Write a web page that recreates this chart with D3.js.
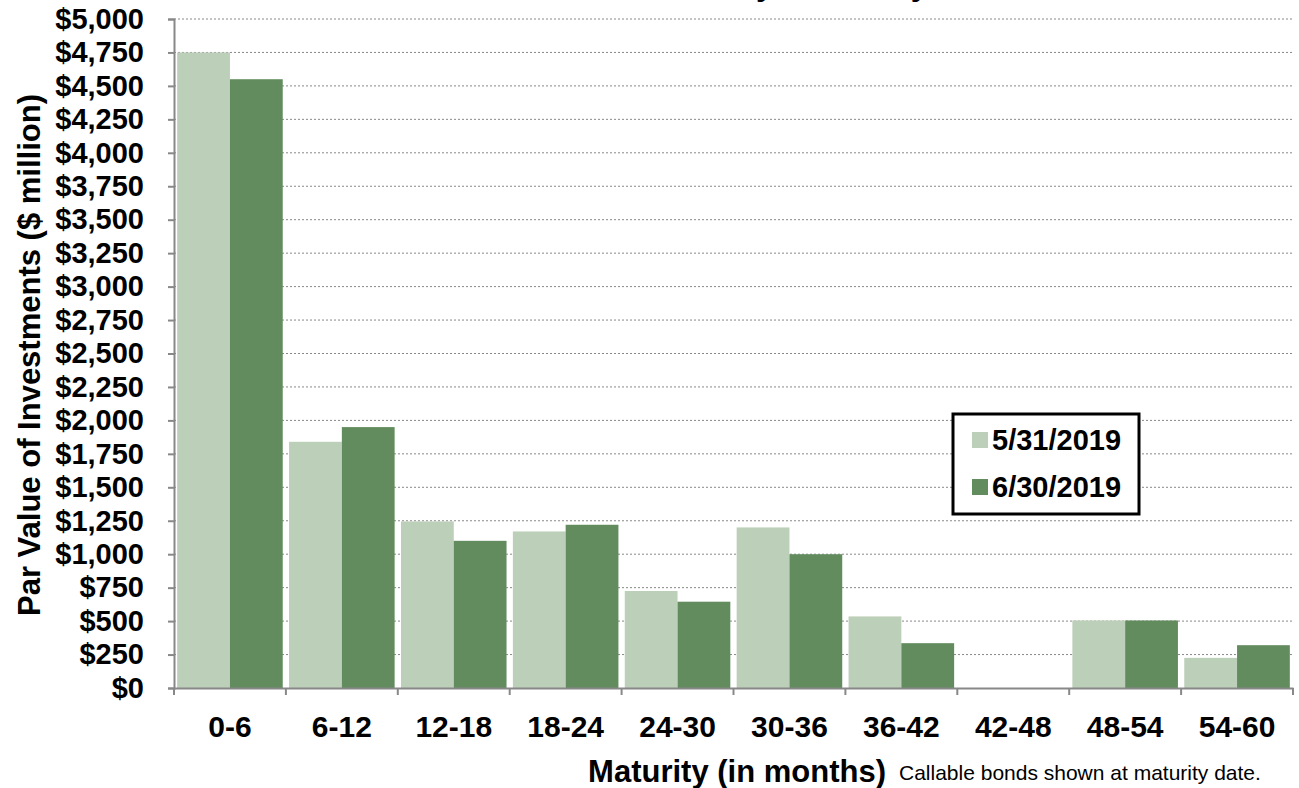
<!DOCTYPE html><html><head><meta charset="utf-8"><script src="https://cdn.jsdelivr.net/npm/d3@7"></script>
<style>body{margin:0;background:#fff}text{font-family:"Liberation Sans",Arial,sans-serif}</style></head><body><svg id="c" width="1299" height="788"></svg><script>
const categories=["0-6","6-12","12-18","18-24","24-30","30-36","36-42","42-48","48-54","54-60"];
const may=[4750,1840,1245,1170,725,1200,535,0,505,225];
const june=[4550,1950,1100,1220,645,1000,335,0,505,320];
const seriesNames=["5/31/2019","6/30/2019"];
const colors=["#bccfb8","#628c5e"];
const svg=d3.select("#c");
const L=174,R=1293,T=19,B=688;
const x=d3.scaleBand().domain(categories).range([L,R]);
const y=d3.scaleLinear().domain([0,5000]).range([B,T]);
const ticks=d3.range(0,5001,250);
svg.append("text").attr("x",700).attr("y",-5).attr("text-anchor","middle").style("font-size","32px").attr("font-weight","bold").text("Investment Maturity Summary");
svg.append("g").selectAll("line").data(ticks.slice(1)).join("line").attr("x1",L).attr("x2",R).attr("y1",d=>y(d)).attr("y2",d=>y(d)).attr("stroke","#888").attr("stroke-dasharray","2,2");
const inner=d3.scaleBand().domain([0,1]).range([0,x.bandwidth()]).paddingOuter(0.06);
[may,june].forEach((s,i)=>{
 svg.append("g").selectAll("rect").data(s).join("rect").attr("x",(d,j)=>x(categories[j])+inner(i)).attr("width",inner.bandwidth()).attr("y",d=>y(d)).attr("height",d=>B-y(d)).attr("fill",colors[i]);
});
const ya=svg.append("g").attr("transform",`translate(${L},0)`).call(d3.axisLeft(y).tickValues(ticks).tickSize(6).tickFormat(d=>"$"+d3.format(",")(d)));
ya.attr("font-family",null).attr("font-size",null);
ya.selectAll("text").style("font-size","29px").style("font-weight","bold").attr("fill","#000").attr("x",-30);
ya.select(".domain").attr("stroke","#888").attr("stroke-width",2);ya.selectAll(".tick line").attr("stroke","#888").attr("stroke-width",2);
const xa=svg.append("g").attr("transform",`translate(0,${B})`).call(d3.axisBottom(x).tickSize(0).tickPadding(28));
xa.attr("font-family",null).attr("font-size",null);
xa.selectAll("text").style("font-size","30px").style("font-weight","bold").attr("fill","#000");
xa.select(".domain").attr("stroke","#888").attr("stroke-width",2);
svg.append("g").selectAll("line").data(d3.range(categories.length+1)).join("line").attr("x1",i=>L+i*x.step()).attr("x2",i=>L+i*x.step()).attr("y1",B).attr("y2",B+7).attr("stroke","#888").attr("stroke-width",2);
svg.append("text").attr("transform","translate(40,355) rotate(-90)").attr("text-anchor","middle").style("font-size","31px").attr("font-weight","bold").text("Par Value of Investments ($ million)");
svg.append("text").attr("x",886).attr("y",782).attr("text-anchor","end").style("font-size","31px").attr("font-weight","bold").text("Maturity (in months)");
svg.append("text").attr("x",899).attr("y",780).style("font-size","21px").text("Callable bonds shown at maturity date.");
const lg=svg.append("g");
lg.append("rect").attr("x",953).attr("y",414).attr("width",186).attr("height",100).attr("fill","#fff").attr("stroke","#000").attr("stroke-width",3);
seriesNames.forEach((n,i)=>{
 lg.append("rect").attr("x",972).attr("y",432+i*47).attr("width",16).attr("height",16).attr("fill",colors[i]);
 lg.append("text").attr("x",992).attr("y",450+i*47).style("font-size","29px").attr("font-weight","bold").text(n);
});
</script></body></html>
